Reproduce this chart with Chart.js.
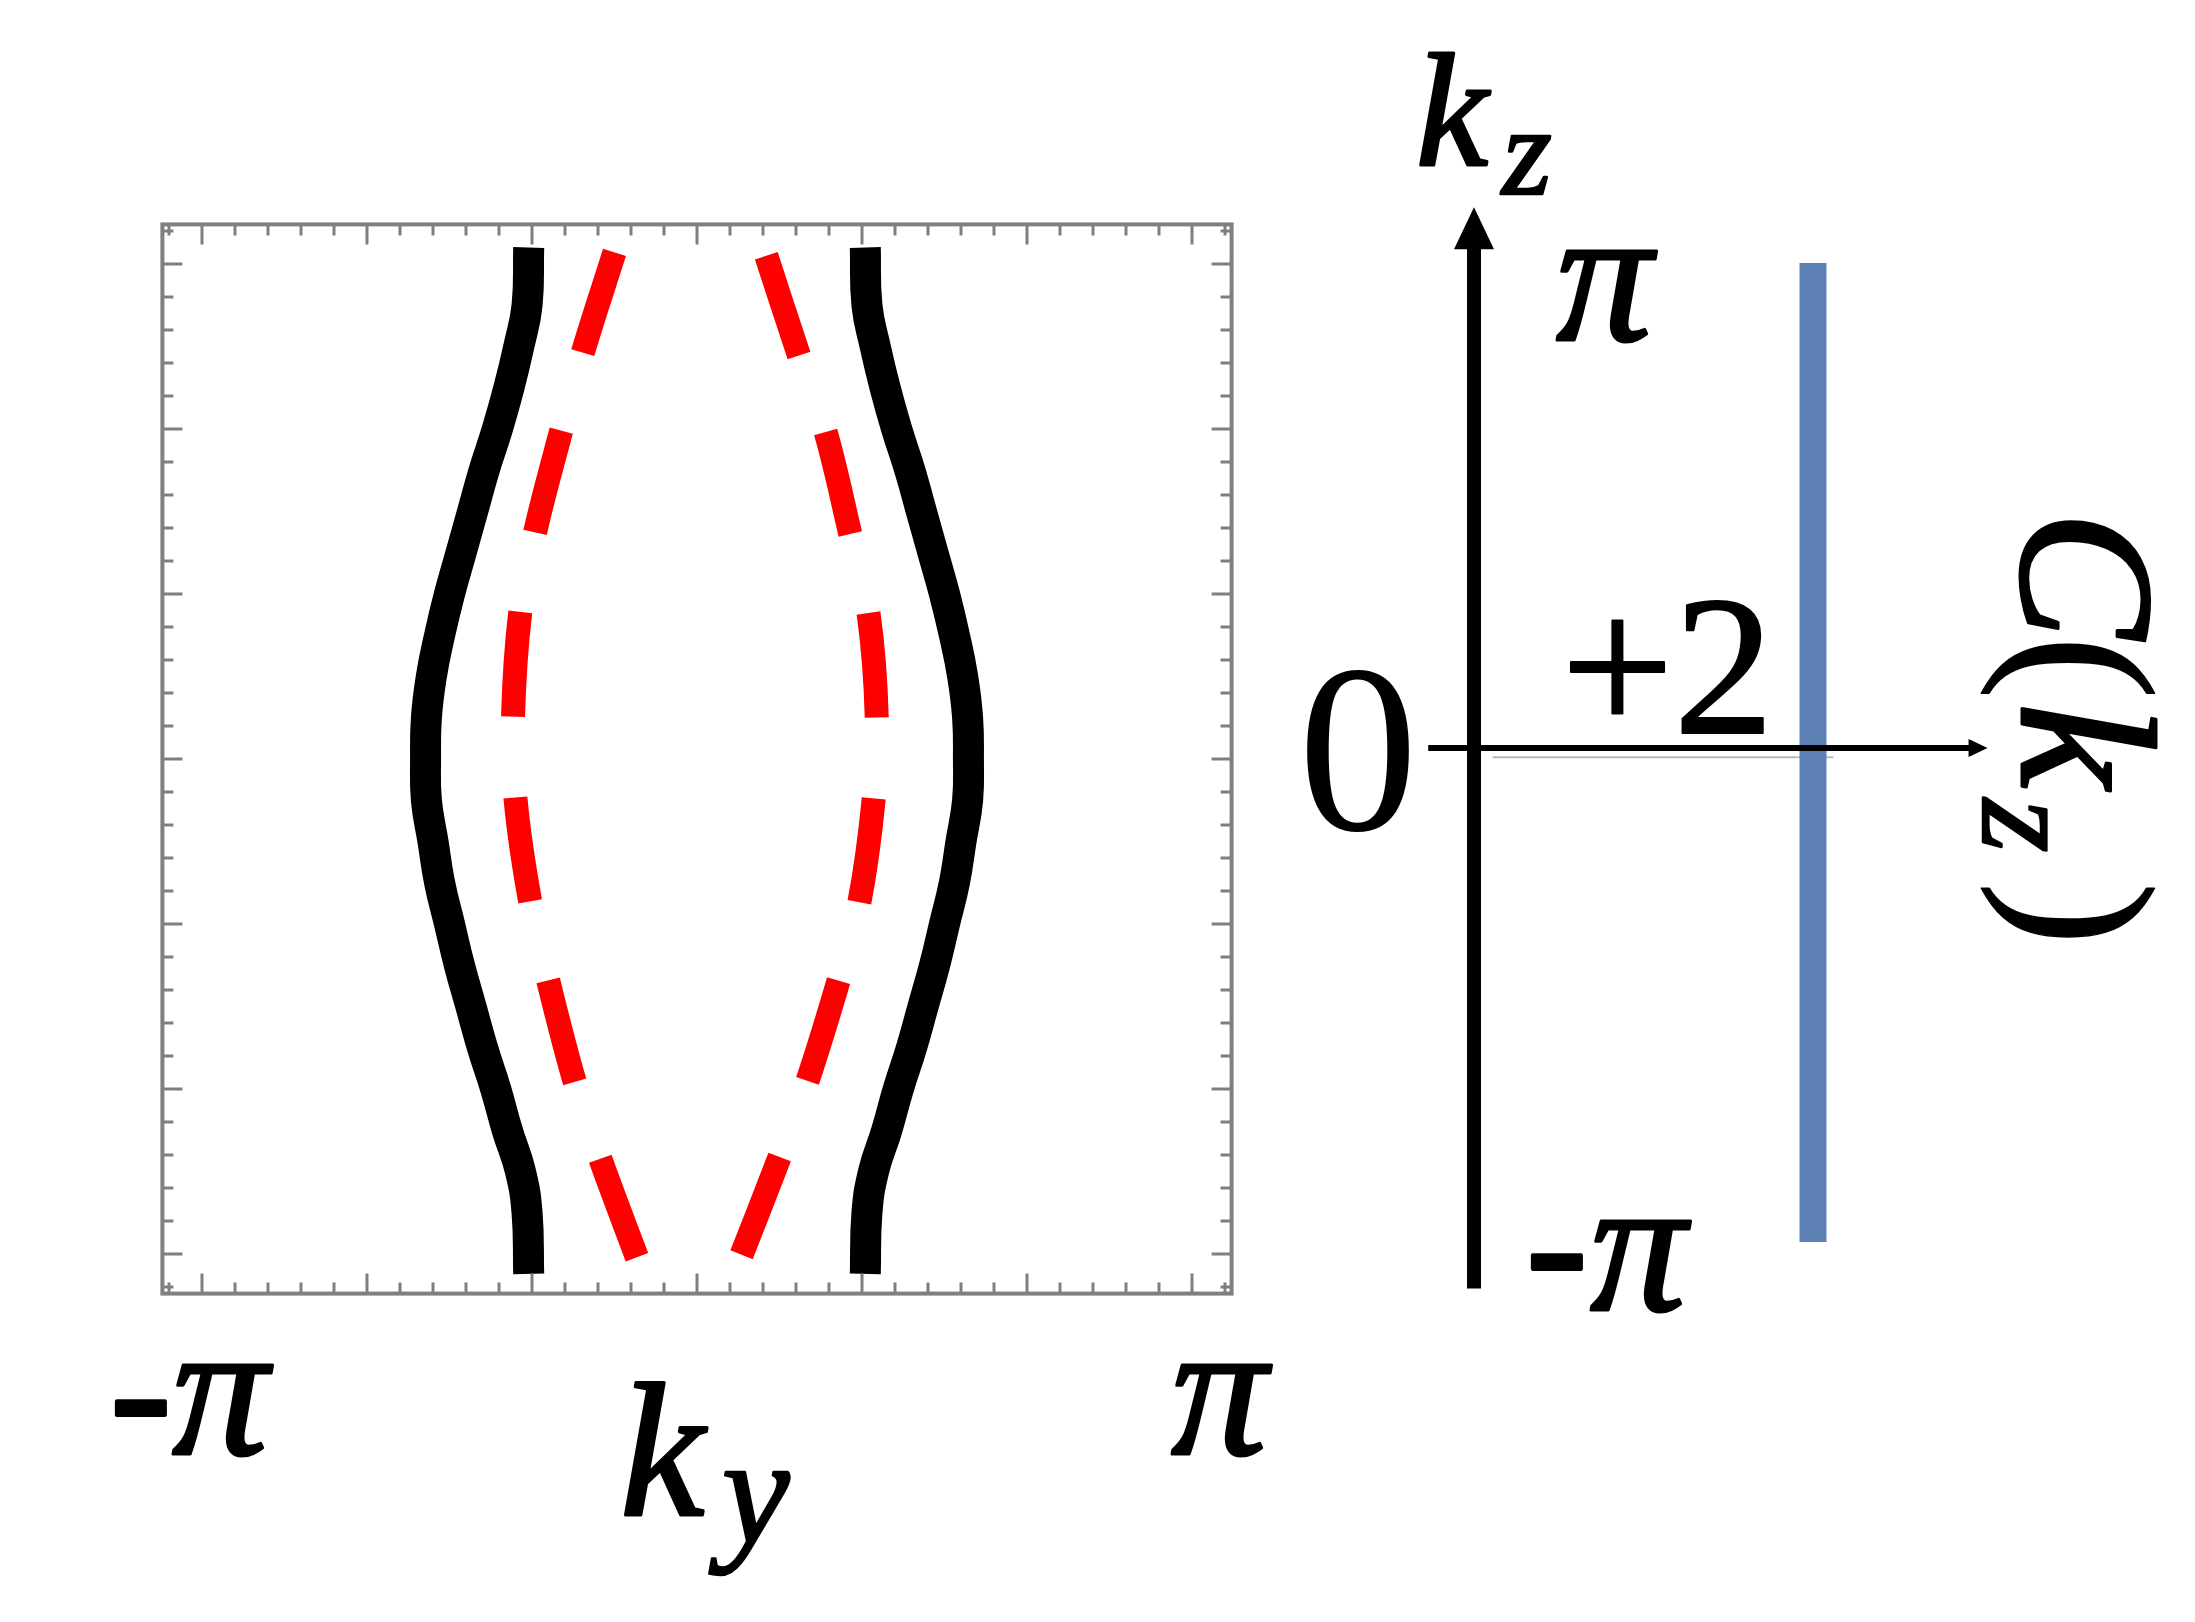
<!DOCTYPE html>
<html>
<head>
<meta charset="utf-8">
<script src="https://cdn.jsdelivr.net/npm/chart.js@4.4.1/dist/chart.umd.min.js"></script>
<style>
    html, body { margin: 0; padding: 0; background: #fff; }
    #wrap { position: relative; width: 2195px; height: 1622px; }
    #wrap canvas { position: absolute; left: 0; top: 0; }
</style>
</head>
<body>
<div id="wrap">
    <canvas id="fermiChart" width="2195" height="1622"></canvas>
    <canvas id="chernChart" width="2195" height="1622"></canvas>
</div>
<script>
// 左図：黒の実線（外側の曲線）kz の値
const kzBlack = [3.10, 2.75, 2.5, 2.25, 2.0, 1.75, 1.5, 1.25, 1.0, 0.75, 0.5, 0.25, 0,
    -0.25, -0.5, -0.75, -1.0, -1.25, -1.5, -1.75, -2.0, -2.25, -2.5, -2.75, -3.12];
const kyBlackLeft = [-1.02, -1.03, -1.08, -1.14, -1.21, -1.29, -1.36, -1.43, -1.50, -1.56, -1.61, -1.64, -1.645,
    -1.64, -1.60, -1.56, -1.50, -1.44, -1.37, -1.30, -1.22, -1.15, -1.07, -1.03, -1.02];
const kyBlackRight = [1.02, 1.03, 1.08, 1.14, 1.21, 1.29, 1.36, 1.43, 1.50, 1.56, 1.61, 1.64, 1.645,
    1.64, 1.60, 1.56, 1.50, 1.44, 1.37, 1.30, 1.22, 1.15, 1.07, 1.03, 1.02];

// 左図：赤の破線（内側の曲線）
const kzRedLeft = [3.07, 2.47, 2.00, 1.38, 0.90, 0.25, -0.24, -0.87, -1.35, -1.96, -2.44, -3.03];
const kyRedLeft = [-0.50, -0.69, -0.82, -0.98, -1.07, -1.115, -1.10, -1.01, -0.90, -0.74, -0.58, -0.36];
const kzRedRight = [3.05, 2.44, 1.98, 1.36, 0.88, 0.23, -0.25, -0.89, -1.37, -1.98, -2.44, -3.03];
const kyRedRight = [0.42, 0.62, 0.78, 0.93, 1.04, 1.09, 1.07, 0.98, 0.85, 0.66, 0.49, 0.26];

// 左図の枠と目盛り
const frameRange = [-3.24, 3.24];
const majorTicks = [-3, -2, -1, 0, 1, 2, 3];
const kyTickLabels = ['-π', 'π'];

// 右図：チャーン数 C(kz)
const chernKz = [-3.1416, 3.1416];
const chernValue = [2, 2];
const chernLabel = '+2';
const kzTickLabels = ['π', '0', '-π'];

// 目盛り付近の薄いグレー線
const shadowC = [0.11, 2.12];
const shadowKz = [-0.03, -0.03];

// x, y 配列を点の配列にする
function toPoints(xs, ys) {
    return xs.map((x, i) => ({ x: x, y: ys[i] }));
}

function mathFont(size, italic) {
    return (italic ? 'italic ' : '') + size + 'px "Liberation Serif", "DejaVu Serif", serif';
}

// 文字を描く（weight > 0 のときは輪郭も描いて太くする）
function drawText(ctx, text, x, y, size, italic, weight) {
    ctx.font = mathFont(size, italic);
    ctx.textAlign = 'left';
    ctx.textBaseline = 'alphabetic';
    ctx.fillStyle = '#000';
    ctx.fillText(text, x, y);
    if (weight) {
        ctx.strokeStyle = '#000';
        ctx.lineWidth = weight;
        ctx.lineJoin = 'round';
        ctx.strokeText(text, x, y);
    }
}

// 枠と内向きの目盛りを描くプラグイン
const frameTicksPlugin = {
    id: 'frameTicks',
    afterDatasetsDraw(chart) {
        const { ctx, chartArea: a, scales: { x, y } } = chart;
        ctx.save();
        ctx.strokeStyle = '#7f7f7f';
        ctx.lineWidth = 3;
        for (let i = -16; i <= 16; i++) {
            const v = i / 5;
            const len = majorTicks.includes(v) ? 20 : 11;
            const px = x.getPixelForValue(v);
            const py = y.getPixelForValue(v);
            ctx.beginPath();
            ctx.moveTo(px, a.top); ctx.lineTo(px, a.top + len);
            ctx.moveTo(px, a.bottom); ctx.lineTo(px, a.bottom - len);
            ctx.moveTo(a.left, py); ctx.lineTo(a.left + len, py);
            ctx.moveTo(a.right, py); ctx.lineTo(a.right - len, py);
            ctx.stroke();
        }
        ctx.strokeStyle = '#808080';
        ctx.lineWidth = 4;
        ctx.strokeRect(a.left, a.top, a.right - a.left, a.bottom - a.top);
        ctx.restore();
    },
    afterDraw(chart) {
        const ctx = chart.ctx;
        ctx.save();
        // 横軸のラベル -π, π と ky
        drawText(ctx, '-', 110, 1452, 185, false, 4);
        drawText(ctx, kyTickLabels[0].slice(1), 172, 1454, 192, true, 3);
        drawText(ctx, kyTickLabels[1], 1171, 1454, 192, true, 3);
        drawText(ctx, 'k', 620, 1515, 190, true, 3);
        drawText(ctx, 'y', 722, 1542, 152, true, 2.5);
        ctx.restore();
    }
};

// 右図の矢印とラベルを描くプラグイン
const chernAxesPlugin = {
    id: 'chernAxes',
    afterDatasetsDraw(chart) {
        const { ctx, scales: { x, y } } = chart;
        const x0 = x.getPixelForValue(0);
        const yAxis = y.getPixelForValue(0.029);
        const yTop = y.getPixelForValue(3.50);
        const yBottom = y.getPixelForValue(-3.44);
        const xLeft = x.getPixelForValue(-0.27);
        const xTip = x.getPixelForValue(3.03);
        ctx.save();
        ctx.fillStyle = '#000';
        ctx.strokeStyle = '#000';
        // 縦軸 kz
        ctx.lineWidth = 14;
        ctx.beginPath();
        ctx.moveTo(x0, yBottom);
        ctx.lineTo(x0, yTop + 40);
        ctx.stroke();
        ctx.beginPath();
        ctx.moveTo(x0, yTop);
        ctx.lineTo(x0 - 20, yTop + 42);
        ctx.lineTo(x0 + 20, yTop + 42);
        ctx.closePath();
        ctx.fill();
        // 横軸 C
        ctx.lineWidth = 6;
        ctx.beginPath();
        ctx.moveTo(xLeft, yAxis);
        ctx.lineTo(xTip - 16, yAxis);
        ctx.stroke();
        ctx.beginPath();
        ctx.moveTo(xTip, yAxis);
        ctx.lineTo(xTip - 19, yAxis - 9);
        ctx.lineTo(xTip - 19, yAxis + 9);
        ctx.closePath();
        ctx.fill();
        ctx.restore();
    },
    afterDraw(chart) {
        const ctx = chart.ctx;
        ctx.save();
        // kz ラベル
        drawText(ctx, 'k', 1416, 165, 162, true, 3);
        drawText(ctx, 'z', 1502, 194, 128, true, 2.5);
        // π, 0, -π
        drawText(ctx, kzTickLabels[0], 1556, 340, 192, true, 3);
        drawText(ctx, kzTickLabels[1], 1298, 830, 240, false, 0);
        drawText(ctx, '-', 1526, 1306, 185, false, 4);
        drawText(ctx, kzTickLabels[2].slice(1), 1590, 1310, 192, true, 3);
        // +2
        drawText(ctx, chernLabel, 1561, 733, 200, false, 2);
        // 縦書きの C(kz)
        ctx.translate(2022, 0);
        ctx.rotate(Math.PI / 2);
        drawText(ctx, 'C', 511, 0, 192, true, 3);
        drawText(ctx, '(', 636, 0, 190, false, 1.5);
        drawText(ctx, 'k', 703, 0, 192, true, 3);
        drawText(ctx, 'z', 799, 39, 137, true, 2.5);
        drawText(ctx, ')', 882, 0, 190, false, 1.5);
        ctx.restore();
    }
};

const baseOptions = {
    responsive: false,
    animation: false,
    events: [],
    plugins: { legend: { display: false }, tooltip: { enabled: false } }
};

// 左図：フェルミ面
new Chart(document.getElementById('fermiChart').getContext('2d'), {
    type: 'scatter',
    data: {
        datasets: [
            { data: toPoints(kyBlackLeft, kzBlack), borderColor: '#000', borderWidth: 31, tension: 0.45 },
            { data: toPoints(kyBlackRight, kzBlack), borderColor: '#000', borderWidth: 31, tension: 0.45 },
            { data: toPoints(kyRedLeft, kzRedLeft), borderColor: '#ff0000', borderWidth: 24, borderDash: [105, 81], tension: 0.35 },
            { data: toPoints(kyRedRight, kzRedRight), borderColor: '#ff0000', borderWidth: 24, borderDash: [105, 81], tension: 0.35 }
        ].map(d => Object.assign(d, { showLine: true, pointRadius: 0, borderCapStyle: 'butt', borderJoinStyle: 'round', clip: false }))
    },
    options: Object.assign({}, baseOptions, {
        layout: { padding: { left: 162.4, right: 963.4, top: 224.4, bottom: 328.4 } },
        scales: {
            x: { type: 'linear', min: frameRange[0], max: frameRange[1], display: false },
            y: { type: 'linear', min: frameRange[0], max: frameRange[1], display: false }
        }
    }),
    plugins: [frameTicksPlugin]
});

// 右図：C(kz)
new Chart(document.getElementById('chernChart').getContext('2d'), {
    type: 'scatter',
    data: {
        datasets: [
            { data: toPoints(chernValue, chernKz), borderColor: '#5e81b5', borderWidth: 27 },
            { data: toPoints(shadowC, shadowKz), borderColor: '#b8b8b8', borderWidth: 2 }
        ].map(d => Object.assign(d, { showLine: true, pointRadius: 0, borderCapStyle: 'butt', clip: false }))
    },
    options: Object.assign({}, baseOptions, {
        layout: { padding: { left: 1304.5, right: 43, top: 129.3, bottom: 246.3 } },
        scales: {
            x: { type: 'linear', min: -1, max: 4, display: false },
            y: { type: 'linear', min: -4, max: 4, display: false }
        }
    }),
    plugins: [chernAxesPlugin]
});
</script>
</body>
</html>
